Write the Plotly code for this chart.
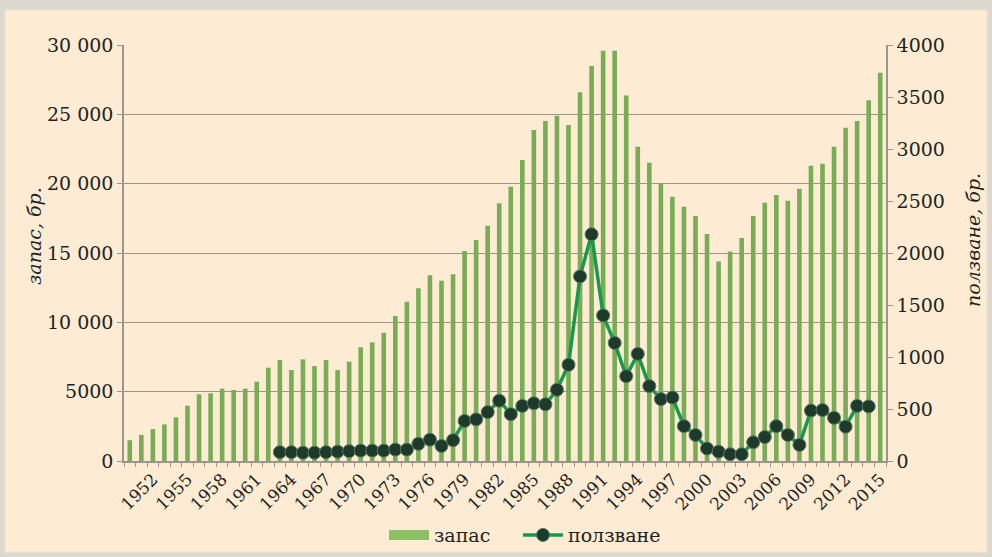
import plotly.graph_objects as go

years = list(range(1950, 2016))
zapas = [1500, 1880, 2300, 2640, 3150, 3990, 4810, 4880, 5220, 5120,
         5220, 5720, 6730, 7280, 6560, 7330, 6850, 7280, 6560, 7160,
         8200, 8560, 9250, 10460, 11490, 12450, 13390, 13000, 13460, 15140,
         15940, 16970, 18580, 19780, 21710, 23870, 24520, 24900, 24230, 26590,
         28490, 29590, 29590, 26350, 22670, 21510, 20020, 19060, 18340, 17670,
         16370, 14380, 15100, 16080, 17670, 18630, 19180, 18770, 19640, 21300,
         21440, 22670, 24040, 24520, 26010, 28000]

use_years = list(range(1963, 2015))
polzvane = [85, 85, 80, 80, 85, 90, 95, 100, 100, 100,
            110, 110, 165, 205, 145, 200, 385, 400, 470, 580,
            450, 530, 555, 545, 685, 925, 1775, 2180, 1400, 1135,
            815, 1030, 720, 595, 610, 335, 250, 120, 90, 65,
            65, 180, 230, 335, 250, 155, 485, 490, 415, 330,
            530, 525]

x_tick_vals = list(range(1952, 2016, 3))
x_tick_text = [str(v) for v in x_tick_vals]
y1_tick_vals = [0, 5000, 10000, 15000, 20000, 25000, 30000]
y1_tick_text = ["0", "5000", "10 000", "15 000", "20 000", "25 000", "30 000"]
y2_tick_vals = [0, 500, 1000, 1500, 2000, 2500, 3000, 3500, 4000]
y2_tick_text = [str(v) for v in y2_tick_vals]

FONT = "DejaVu Serif"
GRID = "#9c958b"
TXT = "#231f1c"

fig = go.Figure()
fig.add_trace(go.Bar(
    x=years, y=zapas, name="запас",
    marker=dict(color="#78ad55", line=dict(width=0)),
    yaxis="y", showlegend=False,
))
# legend key for the bars (wide rectangle like the original)
fig.add_trace(go.Scatter(
    x=[None], y=[None], name="запас", mode="lines",
    line=dict(color="#8dbf66", width=12),
    yaxis="y", legend="legend", hoverinfo="skip",
))
fig.add_trace(go.Scatter(
    x=use_years, y=polzvane, name="ползване", mode="lines+markers",
    line=dict(color="#15994c", width=3.5),
    marker=dict(size=13, color="#1e3a2b", line=dict(width=1, color="#587a60")),
    yaxis="y2", legend="legend2",
))

leg_common = dict(orientation="h", y=-0.178, yanchor="middle", xanchor="left",
                  font=dict(family=FONT, size=19, color=TXT), bgcolor="rgba(0,0,0,0)",
                  itemwidth=40)

fig.update_layout(
    width=992, height=557,
    margin=dict(l=124, r=106, t=45, b=96, autoexpand=False),
    paper_bgcolor="#ddd8cf",
    plot_bgcolor="rgba(0,0,0,0)",
    bargap=0.6,
    showlegend=True,
    font=dict(family=FONT, size=18, color=TXT),
    legend=dict(x=(384 - 124) / 762, **leg_common),
    legend2=dict(x=(518 - 124) / 762, **leg_common),
    xaxis=dict(
        range=[1949.5, 2015.5],
        tickmode="array", tickvals=x_tick_vals, ticktext=x_tick_text,
        tickangle=-45, ticks="", showgrid=False, zeroline=False,
        showline=True, linecolor=GRID, linewidth=1.5,
        tickfont=dict(family=FONT, size=17, color=TXT),
        minor=dict(tickmode="linear", tick0=1949.5, dtick=1, ticks="outside",
                   ticklen=4, tickcolor=GRID, showgrid=False),
    ),
    yaxis=dict(
        range=[0, 30000], tickmode="array", tickvals=y1_tick_vals, ticktext=y1_tick_text,
        showgrid=True, gridcolor=GRID, gridwidth=1.3, zeroline=False,
        showline=True, linecolor=GRID, linewidth=1.5,
        ticks="outside", ticklen=5, tickcolor=GRID,
        tickfont=dict(family=FONT, size=19, color=TXT),
    ),
    yaxis2=dict(
        range=[0, 4000], overlaying="y", side="right",
        tickmode="array", tickvals=y2_tick_vals, ticktext=y2_tick_text,
        showgrid=False, zeroline=False,
        showline=True, linecolor=GRID, linewidth=1.5,
        ticks="outside", ticklen=5, tickcolor=GRID,
        tickfont=dict(family=FONT, size=19, color=TXT),
    ),
    shapes=[dict(type="rect", xref="paper", yref="paper",
                 x0=(5 - 124) / 762, x1=(987 - 124) / 762,
                 y0=(461 - 552) / 416, y1=(461 - 10) / 416,
                 fillcolor="#fdebd3", line=dict(color="#efe3cf", width=1), layer="below")],
    annotations=[
        dict(text="<i>запас, бр.</i>", xref="paper", yref="paper",
             x=(34 - 124) / 762, y=(461 - 236) / 416, xanchor="center", yanchor="middle",
             textangle=-90, showarrow=False, font=dict(family=FONT, size=19, color=TXT)),
        dict(text="<i>ползване, бр.</i>", xref="paper", yref="paper",
             x=(973 - 124) / 762, y=(461 - 240) / 416, xanchor="center", yanchor="middle",
             textangle=-90, showarrow=False, font=dict(family=FONT, size=19, color=TXT)),
    ],
)

fig.write_html(
    "out.html",
    config={"displayModeBar": False},
    post_script=("document.body.style.margin='0';"
                 "document.body.style.overflow='hidden';"
                 "document.documentElement.style.overflow='hidden';"),
)
